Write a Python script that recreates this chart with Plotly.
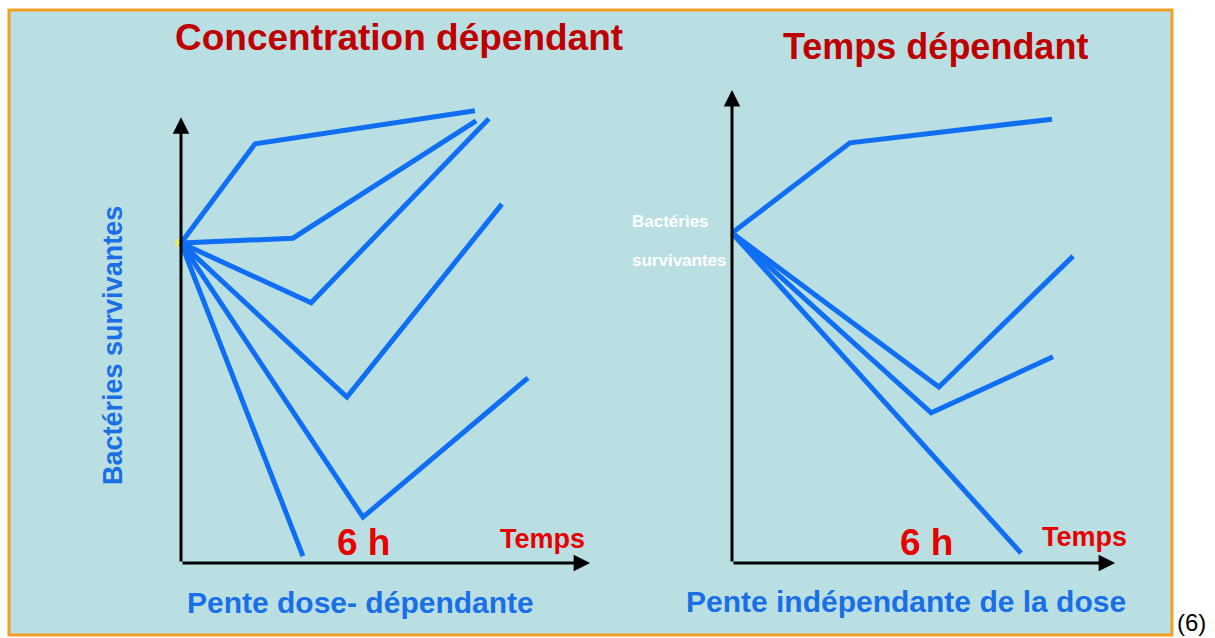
import plotly.graph_objects as go

W, H = 1215, 638

# ---- Data (time in hours, survivors in log units) ----
left_start = (0.0, 6.0)
left_curves_x = [
    [0.0, 2.44, 9.69],
    [0.0, 3.69, 9.73],
    [0.0, 4.29, 10.15],
    [0.0, 5.47, 10.58],
    [0.0, 6.00, 11.44],
    [0.0, 4.02],
]
left_curves_y = [
    [6.0, 7.86, 8.48],
    [6.0, 6.09, 8.29],
    [6.0, 4.88, 8.33],
    [6.0, 3.11, 6.73],
    [6.0, 0.86, 3.47],
    [6.0, 0.13],
]
right_curves_x = [
    [0.0, 3.65, 9.90],
    [0.0, 6.40, 10.55],
    [0.0, 6.16, 9.93],
    [0.0, 8.94],
]
right_curves_y = [
    [6.0, 7.64, 8.07],
    [6.0, 3.20, 5.58],
    [6.0, 2.73, 3.75],
    [6.0, 0.18],
]
left_axis_len = (13.49, 8.36)
right_axis_len = (11.85, 8.60)

titles = ["Concentration dépendant", "Temps dépendant"]
xlabels = ["Temps", "Temps"]
hour_label = "6 h"
captions = ["Pente dose- dépendante", "Pente indépendante de la dose"]
ylabel = "Bactéries survivantes"

# ---- Styles ----
BG = "#B9DFE3"
BORDER = "#F2A024"
LINE = "#0F6EF2"
TITLE_C = "#C00000"
RED = "#E60000"
BLUE_T = "#1A6FE6"
FONT = "Liberation Sans, Arial, sans-serif"

# pixel calibration for each panel: origin px, px per hour, px per log
cal = {
    "L": dict(ox=181, oy=563, sx=30.33, sy=53.33, px=(95, 610), py=(80, 600)),
    "R": dict(ox=732, oy=563, sx=32.33, sy=55.0, px=(640, 1130), py=(70, 600)),
}


def axis_cfg(c):
    x0, x1 = c["px"]
    ytop, ybot = c["py"]
    xd = [x0 / W, x1 / W]
    xr = [(x0 - c["ox"]) / c["sx"], (x1 - c["ox"]) / c["sx"]]
    yd = [1 - ybot / H, 1 - ytop / H]
    yr = [(c["oy"] - ybot) / c["sy"], (c["oy"] - ytop) / c["sy"]]
    return xd, xr, yd, yr


fig = go.Figure()

# panel background
fig.add_shape(type="rect", xref="paper", yref="paper",
              x0=9 / W, x1=1172 / W, y0=1 - 635 / H, y1=1 - 10 / H,
              fillcolor=BG, line=dict(color=BORDER, width=3), layer="below")

for key in ["L", "R"]:
    xd, xr, yd, yr = axis_cfg(cal[key])
    suffix = "" if key == "L" else "2"
    fig.update_layout(**{
        "xaxis" + suffix: dict(domain=xd, range=xr, visible=False, fixedrange=True,
                               anchor="y" + suffix),
        "yaxis" + suffix: dict(domain=yd, range=yr, visible=False, fixedrange=True,
                               anchor="x" + suffix),
    })

# yellow start mark (left)
fig.add_trace(go.Scatter(x=[left_start[0]], y=[left_start[1]], mode="markers",
                         marker=dict(symbol="diamond", size=10, color="#F5F03A"),
                         xaxis="x", yaxis="y", hoverinfo="skip", showlegend=False))

for xs, ys in zip(left_curves_x, left_curves_y):
    fig.add_trace(go.Scatter(x=xs, y=ys, mode="lines", line=dict(color=LINE, width=5),
                             xaxis="x", yaxis="y", showlegend=False, hoverinfo="skip"))
for xs, ys in zip(right_curves_x, right_curves_y):
    fig.add_trace(go.Scatter(x=xs, y=ys, mode="lines", line=dict(color=LINE, width=5),
                             xaxis="x2", yaxis="y2", showlegend=False, hoverinfo="skip"))

ann = []
# axis arrows
for xr_, yr_, axlen in [("x", "y", left_axis_len), ("x2", "y2", right_axis_len)]:
    ann.append(dict(x=axlen[0], y=0, ax=0, ay=0, xref=xr_, yref=yr_, axref=xr_, ayref=yr_,
                    showarrow=True, arrowhead=2, arrowsize=1.1, arrowwidth=3,
                    arrowcolor="black", text=""))
    ann.append(dict(x=0, y=axlen[1], ax=0, ay=0, xref=xr_, yref=yr_, axref=xr_, ayref=yr_,
                    showarrow=True, arrowhead=2, arrowsize=1.1, arrowwidth=3,
                    arrowcolor="black", text=""))


def txt(text, x, y, size, color, weight="bold", xanchor="center", yanchor="middle",
        angle=0, family=FONT):
    return dict(text=text, x=x / W, y=1 - y / H, xref="paper", yref="paper",
                xanchor=xanchor, yanchor=yanchor, showarrow=False, textangle=angle,
                font=dict(family=family, size=size, color=color, weight=weight))


ann += [
    txt(titles[0], 399, 37, 37, TITLE_C),
    txt(titles[1], 935, 46, 36, TITLE_C),
    txt(hour_label, 363, 542, 37, RED),
    txt(hour_label, 926, 542, 37, RED),
    txt(xlabels[0], 542, 539, 27, RED),
    txt(xlabels[1], 1084, 537, 27, RED),
    txt(captions[0], 360, 602, 30, BLUE_T),
    txt(captions[1], 906, 601, 30, BLUE_T),
    txt(ylabel, 113, 346, 27, BLUE_T, angle=-90),
    txt("Bactéries", 630, 222, 17, "white", xanchor="left"),
    txt("survivantes", 630, 260, 17, "white", xanchor="left"),
    txt("(6)", 1175, 638, 24, "black", weight="normal", xanchor="left", yanchor="bottom"),
]

fig.update_layout(
    width=W, height=H, margin=dict(l=0, r=0, t=0, b=0),
    paper_bgcolor="white", plot_bgcolor="rgba(0,0,0,0)",
    annotations=ann, showlegend=False,
)

fig.write_html("out.html", config={"displayModeBar": False},
               post_script="document.body.style.margin='0';document.body.style.overflow='hidden';")
